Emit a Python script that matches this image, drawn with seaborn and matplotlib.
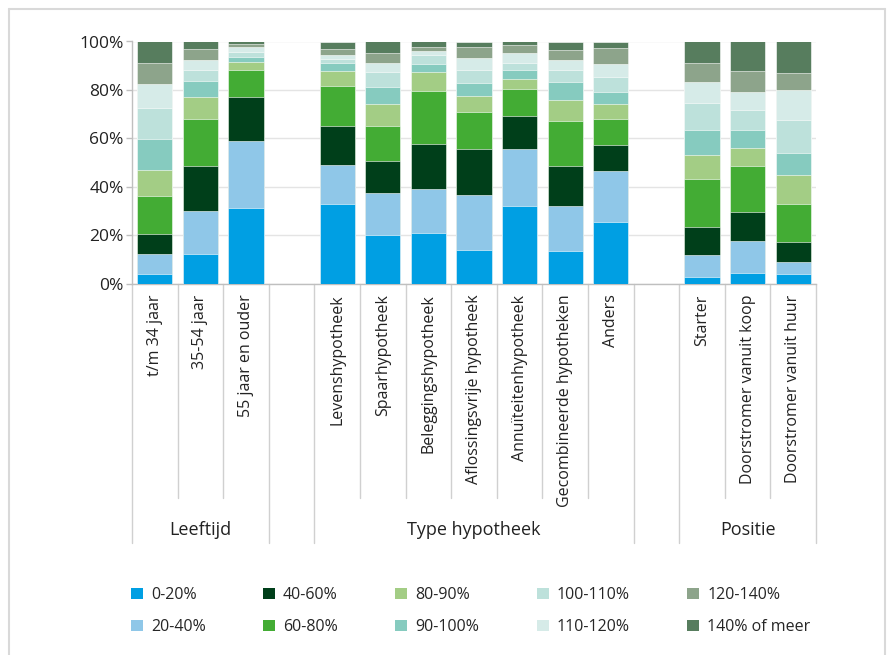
import matplotlib
matplotlib.use("Agg")
import matplotlib.pyplot as plt
from matplotlib.lines import Line2D
from matplotlib.patches import Patch
import seaborn as sns
import numpy as np
import pandas as pd

# Categories (with two empty slots separating the groups)
categories = ["t/m 34 jaar", "35-54 jaar", "55 jaar en ouder",
              "Levenshypotheek", "Spaarhypotheek", "Beleggingshypotheek",
              "Aflossingsvrije hypotheek", "Annuïteitenhypotheek",
              "Gecombineerde hypotheken", "Anders",
              "Starter", "Doorstromer vanuit koop", "Doorstromer vanuit huur"]
slots = categories[:3] + ["gap1"] + categories[3:10] + ["gap2"] + categories[10:]
groups = ["Leeftijd", "Type hypotheek", "Positie"]

bands = ["0-20%", "20-40%", "40-60%", "60-80%", "80-90%",
         "90-100%", "100-110%", "110-120%", "120-140%", "140% of meer"]

# share (%) of each band per category
b0_20 = [4.0, 12.0, 31.1, 33.0, 20.1, 20.9, 13.8, 32.0, 13.5, 25.4, 2.8, 4.3, 3.9]
b20_40 = [8.1, 18.1, 27.9, 16.0, 17.2, 18.3, 22.7, 23.7, 18.5, 21.2, 8.8, 13.2, 4.9]
b40_60 = [8.3, 18.5, 18.0, 16.2, 13.5, 18.6, 19.2, 13.5, 16.6, 10.6, 11.8, 12.2, 8.3]
b60_80 = [15.6, 19.3, 11.2, 16.4, 14.4, 21.7, 15.1, 11.1, 18.5, 10.7, 19.7, 18.7, 15.6]
b80_90 = [10.9, 9.3, 3.3, 6.2, 8.8, 8.0, 6.6, 4.4, 8.8, 6.1, 10.0, 7.6, 12.1]
b90_100 = [12.8, 6.4, 2.3, 3.3, 7.2, 3.1, 5.4, 3.5, 7.2, 5.1, 10.2, 7.3, 9.1]
b100_110 = [12.8, 4.8, 1.9, 1.6, 6.1, 4.0, 5.5, 3.0, 5.3, 6.2, 11.3, 8.4, 13.5]
b110_120 = [10.0, 4.0, 2.0, 1.7, 4.0, 1.4, 4.8, 4.0, 3.8, 5.5, 8.5, 7.3, 12.6]
b120_140 = [8.7, 4.6, 1.1, 2.3, 3.9, 1.7, 4.8, 3.3, 4.1, 6.6, 7.9, 8.8, 7.1]
b140_plus = [8.8, 3.0, 1.2, 3.3, 4.8, 2.3, 2.1, 1.5, 3.7, 2.6, 9.0, 12.2, 12.9]

colors = ["#009FE3", "#8FC7E8", "#003F1A", "#43AC34", "#A3CD85",
          "#86CBBF", "#BDE1DB", "#D6EBE8", "#8DA48B", "#577D5E"]

values = np.array([b0_20, b20_40, b40_60, b60_80, b80_90,
                   b90_100, b100_110, b110_120, b120_140, b140_plus])
cumulative = values.cumsum(axis=0)

sns.set_theme(style="white")
plt.rcParams["font.family"] = ["Open Sans", "DejaVu Sans"]

fig = plt.figure(figsize=(8.88, 6.55), dpi=100)
ax = fig.add_axes([132 / 888, 1 - 283.5 / 655, 684 / 888, 242 / 655])

# Stacked bars: draw cumulative totals from the top band down
for i in range(len(bands) - 1, -1, -1):
    df = pd.DataFrame({"cat": categories, "top": cumulative[i]})
    sns.barplot(data=df, x="cat", y="top", order=slots, color=colors[i],
                saturation=1, width=0.77, errorbar=None,
                edgecolor="white", linewidth=0.4, ax=ax, zorder=3)

ax.set_xlim(-0.5, len(slots) - 0.5)
ax.set_ylim(0, 100)
ax.set_xlabel("")
ax.set_ylabel("")

ax.set_yticks(range(0, 101, 20))
ax.set_yticklabels([f"{v}%" for v in range(0, 101, 20)], fontsize=12.5, color="#222222")
ax.yaxis.grid(True, color="#E4E4E4", linewidth=1, zorder=0)
ax.tick_params(axis="y", length=4, width=1, color="#BFBFBF", left=True, pad=2)

tick_labels = ["" if s.startswith("gap") else s for s in slots]
ax.set_xticks(range(len(slots)))
ax.set_xticklabels(tick_labels, rotation=90, va="top", ha="center",
                   fontsize=11.5, color="#222222")
ax.tick_params(axis="x", length=0, pad=8)

for side in ["top", "right"]:
    ax.spines[side].set_visible(False)
for side in ["left", "bottom"]:
    ax.spines[side].set_color("#BFBFBF")
    ax.spines[side].set_linewidth(1)

# Separator lines below the axis (multi-level category axis)
trans = ax.get_xaxis_transform()
long_edges = [0, 3, 4, 11, 12, 15]
for k in range(len(slots) + 1):
    y_end = -1.072 if k in long_edges else -0.886
    ax.plot([k - 0.5, k - 0.5], [0, y_end], color="#D0D0D0", linewidth=1,
            transform=trans, clip_on=False)

group_centers = [1, 7, 13]
for name, xc in zip(groups, group_centers):
    ax.text(xc, -1.019, name, transform=trans, ha="center", va="center",
            fontsize=13, color="#222222")

# Legend
handles = [Patch(facecolor=c, edgecolor="none") for c in colors]
fig.legend(handles, bands, loc="center", ncol=5, frameon=False,
           bbox_to_anchor=(0.53, 0.067), fontsize=11.5,
           handlelength=0.75, handleheight=0.75, handletextpad=0.5,
           columnspacing=3.6, labelspacing=1.0)

# Outer frame
for xs, ys in [([9, 9], [0, 646]), ([9, 885], [646, 646]), ([885, 885], [646, 0])]:
    fig.add_artist(Line2D([x / 888 for x in xs], [y / 655 for y in ys],
                          color="#D9D9D9", linewidth=1.5))

fig.savefig("out.png", dpi=100)
